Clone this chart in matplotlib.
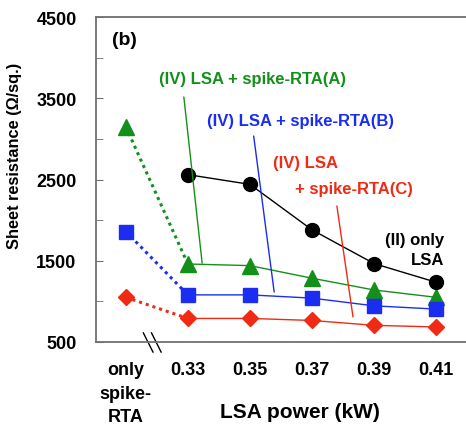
import matplotlib
matplotlib.use('Agg')
import matplotlib.pyplot as plt

plt.rcParams['font.family'] = ['Liberation Sans', 'DejaVu Sans']
plt.rcParams['font.weight'] = 'bold'

# 数据
x_labels = ['only\nspike-\nRTA', '0.33', '0.35', '0.37', '0.39', '0.41']
only_lsa = [2560, 2440, 1880, 1465, 1235]          # 0.33..0.41
rta_a = [3150, 1460, 1440, 1285, 1140, 1050]       # only, 0.33..0.41
rta_b = [1860, 1080, 1080, 1040, 945, 905]
rta_c = [1050, 790, 790, 765, 705, 685]

c_green = '#14901a'
c_blue = '#1a2df0'
c_red = '#f02a14'
c_frame = '#707070'

fig = plt.figure(figsize=(4.66, 4.35), dpi=100)
ax = fig.add_axes([0.206, 0.2115, 0.794, 0.7471])

pos = list(range(len(x_labels)))

# 点线 (only spike-RTA -> 0.33)
for ys, c in [(rta_a, c_green), (rta_b, c_blue), (rta_c, c_red)]:
    ax.plot(pos[:2], ys[:2], ls=(0, (1, 1.3)), lw=2.2, color=c, zorder=2)
    ax.plot(pos[1:], ys[1:], ls='-', lw=1.0, color=c, zorder=2)
ax.plot(pos[1:], only_lsa, ls='-', lw=1.0, color='black', zorder=2)

ms = 10
ax.plot(pos, rta_a, ls='none', marker='^', ms=ms + 1, color=c_green, zorder=3)
ax.plot(pos, rta_b, ls='none', marker='s', ms=ms - 0.5, color=c_blue, zorder=3)
ax.plot(pos, rta_c, ls='none', marker='D', ms=ms - 2, color=c_red, zorder=3)
ax.plot(pos[1:], only_lsa, ls='none', marker='o', ms=ms, color='black', zorder=3)

ax.set_xlim(-0.48, 5.48)
ax.set_ylim(500, 4500)
ax.set_yticks([500, 1500, 2500, 3500, 4500])
ax.set_yticks([1000, 2000, 3000, 4000], minor=True)
ax.set_xticks(pos)
ax.set_xticklabels(x_labels, fontsize=13, fontweight='bold', va='top', linespacing=1.5)
ax.tick_params(axis='x', length=0, pad=14)
ax.tick_params(axis='y', which='both', direction='in', length=5, color=c_frame,
               labelsize=13, pad=14)
for lab in ax.get_yticklabels():
    lab.set_fontweight('bold')

for side in ['left', 'top', 'bottom']:
    ax.spines[side].set_color(c_frame)
    ax.spines[side].set_linewidth(1.3)
ax.spines['right'].set_visible(False)

ax.set_ylabel('Sheet resistance (Ω/sq.)', fontsize=11.8, fontweight='bold')
ax.yaxis.set_label_coords(-0.2, 0.575)
ax.set_xlabel('LSA power (kW)', fontsize=15, fontweight='bold')
ax.xaxis.set_label_coords(0.55, -0.185)

# 断轴标记
for dx in [0, 0.022]:
    ax.plot([0.128 + dx, 0.154 + dx], [0.028, -0.031], transform=ax.transAxes,
            color='black', lw=1.0, clip_on=False)

ax.text(-0.22, 4220, '(b)', fontsize=14, fontweight='bold', va='center')

# 标注
fs = 12
ax.text(0.53, 3740, '(IV) LSA + spike-RTA(A)', color=c_green, fontsize=fs, va='center')
ax.annotate('', xy=(1.23, 1470), xytext=(0.935, 3515),
            arrowprops=dict(arrowstyle='-', color=c_green, lw=1.0, shrinkA=0, shrinkB=0))
ax.text(1.31, 3230, '(IV) LSA + spike-RTA(B)', color=c_blue, fontsize=fs, va='center')
ax.annotate('', xy=(2.39, 1115), xytext=(2.06, 3035),
            arrowprops=dict(arrowstyle='-', color=c_blue, lw=1.0, shrinkA=0, shrinkB=0))
ax.text(2.37, 2715, '(IV) LSA', color=c_red, fontsize=fs, va='center')
ax.text(2.73, 2395, '+ spike-RTA(C)', color=c_red, fontsize=fs, va='center')
ax.annotate('', xy=(3.66, 808), xytext=(3.40, 2174),
            arrowprops=dict(arrowstyle='-', color=c_red, lw=1.0, shrinkA=0, shrinkB=0))
ax.text(5.13, 1640, '(II) only\nLSA', color='black', fontsize=fs,
        ha='right', va='center', linespacing=1.45)

fig.savefig('out.png', dpi=100)
